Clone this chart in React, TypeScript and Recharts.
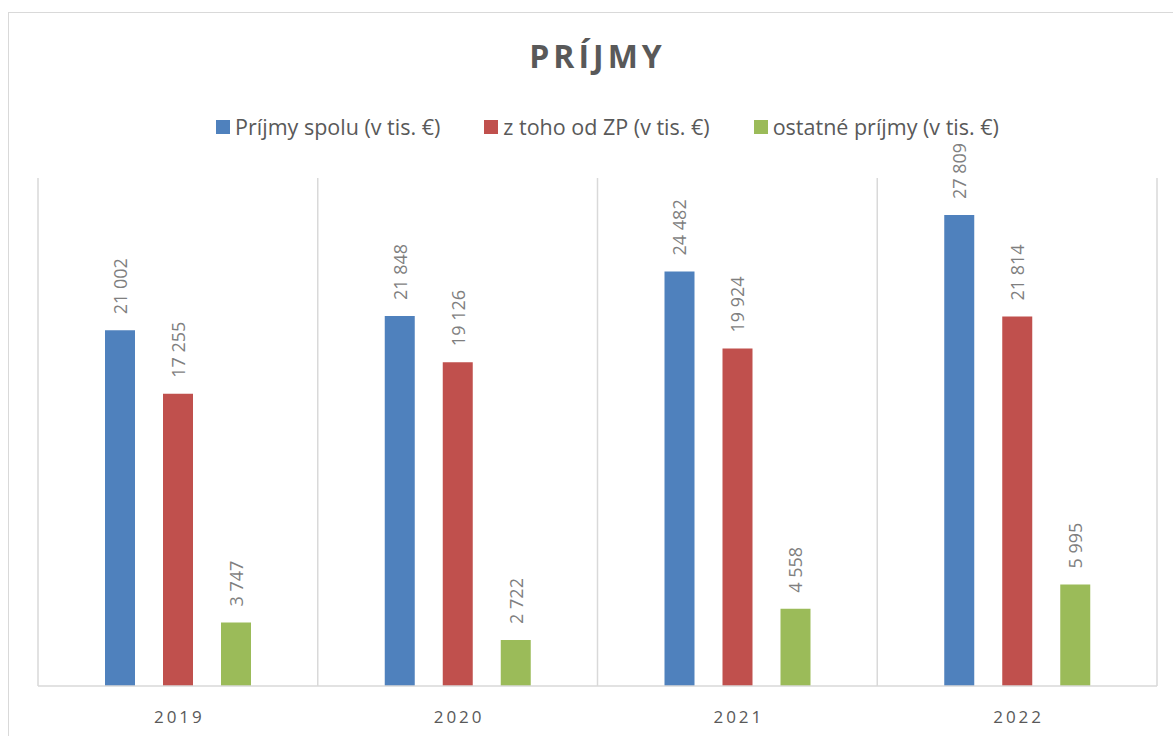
import React from 'react';
import {
  BarChart,
  Bar,
  XAxis,
  YAxis,
  CartesianGrid,
  Legend,
  LabelList,
} from 'recharts';

const years = ['2019', '2020', '2021', '2022'];
const totalIncome = [21002, 21848, 24482, 27809];
const fromZP = [17255, 19126, 19924, 21814];
const otherIncome = [3747, 2722, 4558, 5995];

const seriesNames = [
  'Príjmy spolu (v tis. €)',
  'z toho od ZP (v tis. €)',
  'ostatné príjmy (v tis. €)',
];
const COLORS = ['#4F81BD', '#C0504D', '#9BBB59'];

const FONT = '"Open Sans", "Noto Sans", sans-serif';
const TEXT = '#595959';
const GRID = '#D9D9D9';

const data = years.map((year, i) => ({
  year,
  total: totalIncome[i],
  zp: fromZP[i],
  other: otherIncome[i],
}));

const fmt = (v: number) => String(v).replace(/\B(?=(\d{3})+(?!\d))/g, ' ');

function RotatedLabel(props: any) {
  const { x, y, width, value } = props;
  const cx = Number(x) + Number(width) / 2;
  const ty = Number(y) - 16;
  return (
    <text
      x={cx}
      y={ty}
      transform={`rotate(-90, ${cx}, ${ty})`}
      textAnchor="start"
      dominantBaseline="central"
      fill="#7F7F7F"
      fontSize={18}
      fontFamily={FONT}
    >
      {fmt(value)}
    </text>
  );
}

function YearTick(props: any) {
  const { x, y, payload } = props;
  return (
    <text
      x={x}
      y={y}
      dx={1.5}
      dy={29}
      textAnchor="middle"
      fill={TEXT}
      fontSize={17}
      letterSpacing={3}
      fontFamily={FONT}
    >
      {payload.value}
    </text>
  );
}

function LegendContent() {
  return (
    <div
      style={{
        display: 'flex',
        justifyContent: 'center',
        gap: 44,
        fontFamily: FONT,
        fontSize: 21.5,
        color: TEXT,
        paddingLeft: 42,
      }}
    >
      {seriesNames.map((name, i) => (
        <div key={name} style={{ display: 'flex', alignItems: 'center' }}>
          <span
            style={{
              width: 14,
              height: 14,
              background: COLORS[i],
              marginRight: 5,
              display: 'inline-block',
            }}
          />
          <span>{name}</span>
        </div>
      ))}
    </div>
  );
}

export default function App() {
  return (
    <div
      style={{
        position: 'fixed',
        left: 0,
        top: 0,
        width: 1173,
        height: 736,
        overflow: 'hidden',
        background: '#fff',
      }}
    >
      <div
        style={{
          position: 'absolute',
          left: 8,
          top: 12,
          width: 1200,
          height: 760,
          border: `1px solid ${GRID}`,
          boxSizing: 'border-box',
        }}
      />
      <div
        style={{
          position: 'absolute',
          left: 0,
          top: 34,
          width: 1195,
          textAlign: 'center',
          fontFamily: FONT,
          fontWeight: 700,
          fontSize: 32,
          letterSpacing: 4,
          color: TEXT,
        }}
      >
        PRÍJMY
      </div>
      <div style={{ position: 'absolute', left: 0, top: 0 }}>
        <BarChart
          width={1173}
          height={736}
          data={data}
          margin={{ top: 178, right: 16, bottom: 20, left: 38 }}
          barSize={30}
          barGap={28}
        >
          <CartesianGrid
            horizontal={false}
            stroke={GRID}
            strokeWidth={1.5}
            verticalCoordinatesGenerator={({ offset }: any) =>
              years
                .map((_, i) => offset.left + (i * offset.width) / years.length)
                .concat(offset.left + offset.width)
            }
          />
          <XAxis
            dataKey="year"
            height={30}
            axisLine={{ stroke: GRID, strokeWidth: 1.5 }}
            tickLine={false}
            tick={<YearTick />}
            interval={0}
          />
          <YAxis hide domain={[0, 30000]} />
          <Legend
            verticalAlign="middle"
            content={<LegendContent />}
            wrapperStyle={{ top: 112, left: 0, width: 1173 }}
          />
          <Bar dataKey="total" name={seriesNames[0]} fill={COLORS[0]} isAnimationActive={false}>
            <LabelList dataKey="total" content={<RotatedLabel />} />
          </Bar>
          <Bar dataKey="zp" name={seriesNames[1]} fill={COLORS[1]} isAnimationActive={false}>
            <LabelList dataKey="zp" content={<RotatedLabel />} />
          </Bar>
          <Bar dataKey="other" name={seriesNames[2]} fill={COLORS[2]} isAnimationActive={false}>
            <LabelList dataKey="other" content={<RotatedLabel />} />
          </Bar>
        </BarChart>
      </div>
    </div>
  );
}
